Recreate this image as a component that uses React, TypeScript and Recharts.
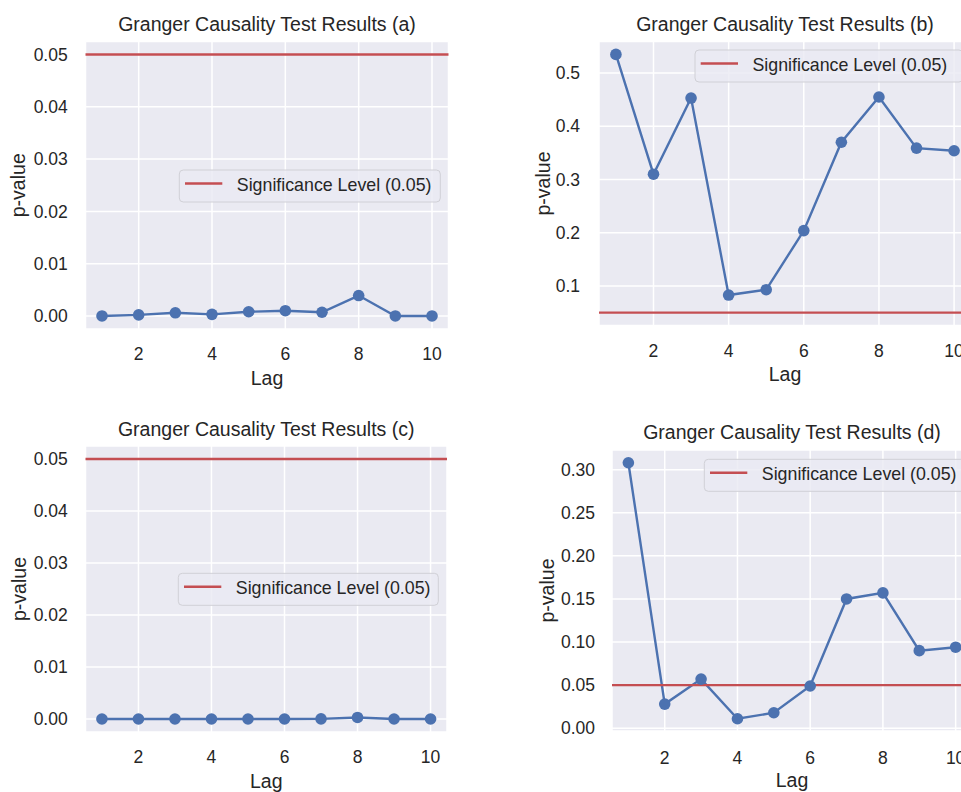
import React from 'react';
import { LineChart, Line, XAxis, YAxis, CartesianGrid, ReferenceLine, Customized } from 'recharts';

// ---------- data ----------
const lags = [1, 2, 3, 4, 5, 6, 7, 8, 9, 10];
const pValuesA = [0.0, 0.0002, 0.0006, 0.0003, 0.0008, 0.001, 0.0007, 0.0039, 0.0, 0.0];
const pValuesB = [0.535, 0.31, 0.453, 0.083, 0.093, 0.204, 0.37, 0.455, 0.359, 0.354];
const pValuesC = [0.0, 0.0, 0.0, 0.0, 0.0, 0.0, 0.00002, 0.0003, 0.0, 0.0];
const pValuesD = [0.308, 0.028, 0.057, 0.011, 0.018, 0.049, 0.15, 0.157, 0.09, 0.094];

const lagTicks = [2, 4, 6, 8, 10];
const yTicksSmall = [0, 0.01, 0.02, 0.03, 0.04, 0.05];
const yTicksB = [0.1, 0.2, 0.3, 0.4, 0.5];
const yTicksD = [0, 0.05, 0.1, 0.15, 0.2, 0.25, 0.3];

const significance = 0.05;
const legendLabel = 'Significance Level (0.05)';
const titleA = 'Granger Causality Test Results (a)';
const titleB = 'Granger Causality Test Results (b)';
const titleC = 'Granger Causality Test Results (c)';
const titleD = 'Granger Causality Test Results (d)';
const xLabel = 'Lag';
const yLabel = 'p-value';

// ---------- style ----------
const FONT = '"Liberation Sans", Arial, Helvetica, sans-serif';
const TEXT = '#262626';
const BLUE = '#4C72B0';
const RED = '#C44E52';
const BG = '#EAEAF2';

type Cfg = {
  values: number[];
  title: string;
  box: { left: number; top: number; w: number; h: number };
  plot: { x0: number; x1: number; y0: number; y1: number };
  yDomain: [number, number];
  yTicks: number[];
  dec: number;
  titleBaseline: number;
  yLabelX: number;
  xLabelBaseline: number;
  legend: { x: number; y: number; w: number };
  yTickGap: number;
  xTickGap: number;
};

const panels: Cfg[] = [
  {
    values: pValuesA, title: titleA,
    box: { left: 0, top: 0, w: 480, h: 400 },
    plot: { x0: 85.5, x1: 448.5, y0: 41.5, y1: 329 },
    yDomain: [-0.0025, 0.0525], yTicks: yTicksSmall, dec: 2,
    titleBaseline: 31, yLabelX: 18.5, xLabelBaseline: 385,
    legend: { x: 179.3, y: 170, w: 261 }, yTickGap: 17.8, xTickGap: 18.5,
  },
  {
    values: pValuesB, title: titleB,
    box: { left: 480, top: 0, w: 500, h: 400 },
    plot: { x0: 599, x1: 971, y0: 41.5, y1: 325.5 },
    yDomain: [0.0258, 0.5592], yTicks: yTicksB, dec: 1,
    titleBaseline: 31, yLabelX: 543, xLabelBaseline: 381,
    legend: { x: 695, y: 50, w: 268 }, yTickGap: 19, xTickGap: 19.5,
  },
  {
    values: pValuesC, title: titleC,
    box: { left: 0, top: 400, w: 480, h: 392 },
    plot: { x0: 85.5, x1: 447, y0: 446, y1: 732 },
    yDomain: [-0.0025, 0.0525], yTicks: yTicksSmall, dec: 2,
    titleBaseline: 435.7, yLabelX: 19, xLabelBaseline: 787.5,
    legend: { x: 178.3, y: 573.3, w: 260 }, yTickGap: 17.8, xTickGap: 19,
  },
  {
    values: pValuesD, title: titleD,
    box: { left: 480, top: 400, w: 500, h: 392 },
    plot: { x0: 612, x1: 972, y0: 450, y1: 731 },
    yDomain: [-0.0032, 0.3228], yTicks: yTicksD, dec: 2,
    titleBaseline: 439.3, yLabelX: 547, xLabelBaseline: 787,
    legend: { x: 704.3, y: 459.3, w: 268 }, yTickGap: 17, xTickGap: 20.5,
  },
];

function Decor(props: any) {
  const { title, tx, ty, lg } = props;
  return (
    <g>
      <text x={tx} y={ty} textAnchor="middle" fontSize={19.5} fontFamily={FONT} fill={TEXT}>
        {title}
      </text>
      <rect x={lg.x} y={lg.y} width={lg.w} height={32} rx={4} ry={4}
        fill="rgba(234,234,242,0.8)" stroke="#d0d0d6" strokeWidth={1} />
      <line x1={lg.x + 5.7} x2={lg.x + 43} y1={lg.y + 13.5} y2={lg.y + 13.5} stroke={RED} strokeWidth={2.4} />
      <text x={lg.x + 57.5} y={lg.y + 21} fontSize={17.8} fontFamily={FONT} fill={TEXT}>
        {legendLabel}
      </text>
    </g>
  );
}

function Panel({ cfg }: { cfg: Cfg }) {
  const { box, plot } = cfg;
  const data = lags.map((lag, i) => ({ lag, p: cfg.values[i] }));
  const margin = { top: plot.y0 - box.top, right: box.left + box.w - plot.x1, bottom: 0, left: 0 };
  const yWidth = plot.x0 - box.left;
  const xHeight = box.top + box.h - plot.y1;
  const tickStyle = { fill: TEXT, fontSize: 17.5, fontFamily: FONT };
  const tx = (plot.x0 + plot.x1) / 2 - box.left;
  const ty = cfg.titleBaseline - box.top;
  const lg = { x: cfg.legend.x - box.left, y: cfg.legend.y - box.top, w: cfg.legend.w };
  return (
    <div style={{ position: 'absolute', left: box.left, top: box.top, width: box.w, height: box.h }}>
      <LineChart width={box.w} height={box.h} data={data} margin={margin}>
        <CartesianGrid fill={BG} fillOpacity={1} stroke="#ffffff" strokeWidth={1.5} />
        <XAxis
          dataKey="lag" type="number" domain={[0.55, 10.45]} ticks={lagTicks} allowDataOverflow
          interval={0} tickLine={false} axisLine={false} tickSize={0} tickMargin={cfg.xTickGap}
          height={xHeight} tick={tickStyle}
          label={{ value: xLabel, position: 'insideBottom', offset: box.top + box.h - cfg.xLabelBaseline,
            fill: TEXT, fontSize: 19.5, fontFamily: FONT }}
        />
        <YAxis
          type="number" domain={cfg.yDomain} ticks={cfg.yTicks} allowDataOverflow interval={0}
          width={yWidth} tickLine={false} axisLine={false} tickSize={0} tickMargin={cfg.yTickGap}
          tickFormatter={(v: number) => v.toFixed(cfg.dec)} tick={tickStyle}
          label={{ value: yLabel, angle: -90, position: 'insideLeft', offset: cfg.yLabelX - box.left,
            style: { textAnchor: 'middle' }, fill: TEXT, fontSize: 19.5, fontFamily: FONT }}
        />
        <Line
          dataKey="p" type="linear" stroke={BLUE} strokeWidth={2.4}
          dot={{ r: 5.8, fill: BLUE, stroke: BLUE, strokeWidth: 0 }}
          activeDot={false} isAnimationActive={false}
        />
        <ReferenceLine y={significance} stroke={RED} strokeWidth={2.4} />
        <Customized component={<Decor title={cfg.title} tx={tx} ty={ty} lg={lg} />} />
      </LineChart>
    </div>
  );
}

export default function App() {
  return (
    <div style={{ position: 'fixed', left: 0, top: 0, width: 961, height: 792, overflow: 'hidden', background: '#ffffff' }}>
      {panels.map((cfg, i) => (
        <Panel key={i} cfg={cfg} />
      ))}
    </div>
  );
}
